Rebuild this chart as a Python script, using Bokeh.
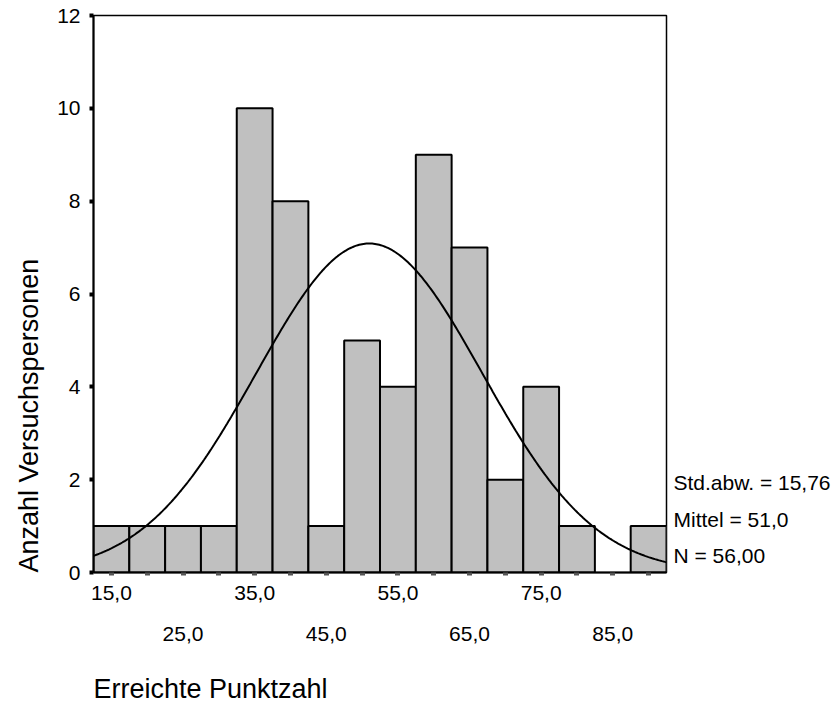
import numpy as np
from bokeh.plotting import figure
from bokeh.models import FixedTicker, Range1d, ColumnDataSource, LinearAxis, Title
from bokeh.embed import file_html
from bokeh.resources import INLINE

# ---- data ----
bin_centers = [15, 20, 25, 30, 35, 40, 45, 50, 55, 60, 65, 70, 75, 80, 85, 90]
counts      = [1, 1, 1, 1, 10, 8, 1, 5, 4, 9, 7, 2, 4, 1, 0, 1]
bin_width = 5.0

x_ticks_row1 = [15, 35, 55, 75]
x_labels_row1 = ["15,0", "35,0", "55,0", "75,0"]
x_ticks_row2 = [25, 45, 65, 85]
x_labels_row2 = ["25,0", "45,0", "65,0", "85,0"]
y_ticks = [0, 2, 4, 6, 8, 10, 12]
y_labels = ["0", "2", "4", "6", "8", "10", "12"]

stat_sd = 15.76
stat_mean = 51.0
stat_n = 56
stats_text = ["Std.abw. = 15,76", "Mittel = 51,0", "N = 56,00"]
stats_pos = [1.93, 1.15, 0.37]   # vertical anchor of each statistics line (y units)

x_title = "Erreichte Punktzahl"
y_title = "Anzahl Versuchspersonen"

# ---- layout ----
FONT = "Liberation Sans"
W, H = 837, 711
FL, FT = 93, 15
FW, FH = 573, 557
x_lo, x_hi = 12.5, 92.5
y_lo, y_hi = 0, 12

p = figure(width=W, height=H, output_backend="svg", toolbar_location=None,
           x_range=Range1d(x_lo, x_hi), y_range=Range1d(y_lo, y_hi),
           min_border_left=FL, min_border_top=FT,
           min_border_right=W - FL - FW, min_border_bottom=H - FT - FH,
           frame_width=FW, frame_height=FH)
p.background_fill_color = "white"
p.border_fill_color = "white"
p.outline_line_color = "black"
p.outline_line_width = 1.5
p.xgrid.visible = False
p.ygrid.visible = False

# bottom axis: dash ticks at every bin centre, first row of labels
xa = p.xaxis[0]
xa.ticker = FixedTicker(ticks=bin_centers)
ov1 = {c: "" for c in bin_centers}
ov1.update({v: t for v, t in zip(x_ticks_row1, x_labels_row1)})
xa.major_label_overrides = ov1
xa.minor_tick_line_color = None
xa.major_tick_in = 0
xa.major_tick_out = 3
xa.major_tick_line_width = 5
xa.major_tick_line_color = "#555555"
xa.axis_line_width = 2
xa.axis_line_color = "black"
xa.major_label_standoff = 10
xa.major_label_text_font = FONT
xa.major_label_text_font_size = "21px"
xa.major_label_text_color = "black"

# second row of staggered x labels
xb = LinearAxis(ticker=FixedTicker(ticks=x_ticks_row2),
                major_label_overrides={v: t for v, t in zip(x_ticks_row2, x_labels_row2)})
xb.axis_line_color = None
xb.major_tick_line_color = None
xb.minor_tick_line_color = None
xb.major_tick_in = 0
xb.major_tick_out = 0
xb.major_label_standoff = 24
xb.major_label_text_font = FONT
xb.major_label_text_font_size = "21px"
xb.major_label_text_color = "black"
p.add_layout(xb, "below")

# left axis
ya = p.yaxis[0]
ya.ticker = FixedTicker(ticks=y_ticks)
ya.major_label_overrides = {v: t for v, t in zip(y_ticks, y_labels)}
ya.minor_tick_line_color = None
ya.major_tick_in = 0
ya.major_tick_out = 4
ya.major_tick_line_width = 4
ya.major_tick_line_color = "black"
ya.axis_line_width = 2
ya.axis_line_color = "black"
ya.major_label_standoff = 9
ya.major_label_text_font = FONT
ya.major_label_text_font_size = "21px"
ya.major_label_text_color = "black"

# statistics block at the right of the frame
ra = LinearAxis(ticker=FixedTicker(ticks=stats_pos),
                major_label_overrides={v: t for v, t in zip(stats_pos, stats_text)})
ra.axis_line_color = None
ra.major_tick_line_color = None
ra.minor_tick_line_color = None
ra.major_tick_in = 0
ra.major_tick_out = 0
ra.major_label_standoff = 7
ra.major_label_text_font = FONT
ra.major_label_text_font_size = "21px"
ra.major_label_text_color = "black"
p.add_layout(ra, "right")

# bars
bx = [c for c, n in zip(bin_centers, counts) if n > 0]
bn = [n for n in counts if n > 0]
src = ColumnDataSource(dict(left=[c - bin_width / 2 for c in bx],
                            right=[c + bin_width / 2 for c in bx],
                            top=bn, bottom=[0] * len(bn)))
p.quad(left="left", right="right", top="top", bottom="bottom", source=src,
       fill_color="#c0c0c0", line_color="black", line_width=2)

# fitted normal curve from the displayed statistics
xs = np.linspace(x_lo, x_hi, 400)
ys = stat_n * bin_width / (stat_sd * np.sqrt(2 * np.pi)) * np.exp(-0.5 * ((xs - stat_mean) / stat_sd) ** 2)
p.line(xs, ys, line_color="black", line_width=2)

# axis titles
tb = Title(text=x_title, align="left", text_font=FONT, text_font_size="27px",
           text_font_style="normal", text_color="black", standoff=56)
p.add_layout(tb, "below")
tl = Title(text=y_title, align="left", text_font=FONT, text_font_size="27px",
           text_font_style="normal", text_color="black", standoff=21)
p.add_layout(tl, "left")

open("out.html", "w").write(file_html(p, INLINE))
